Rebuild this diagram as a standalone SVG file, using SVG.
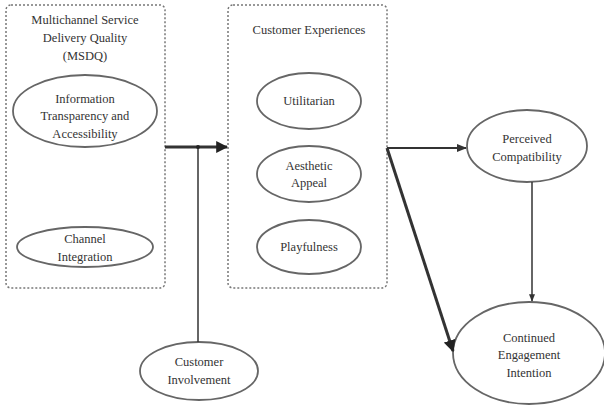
<svg xmlns="http://www.w3.org/2000/svg" width="604" height="407" viewBox="0 0 604 407">
<defs>
<style>
.box{fill:none;stroke:#777;stroke-width:1.5;stroke-dasharray:2,2}
.ell{fill:#fff;stroke:#666;stroke-width:1.8}
text{font-family:"Liberation Serif","Times New Roman",serif;font-size:12.5px;fill:#333;text-anchor:middle}
.ln{fill:none;stroke:#333}
</style>
<marker id="ah" viewBox="0 0 10 10" refX="9" refY="5" markerWidth="4" markerHeight="4" orient="auto" markerUnits="strokeWidth">
<path d="M0,0 L10,5 L0,10 z" fill="#222"/>
</marker>
<marker id="ahs" viewBox="0 0 10 10" refX="9" refY="5" markerWidth="5" markerHeight="5" orient="auto" markerUnits="strokeWidth">
<path d="M0,1 L10,5 L0,9 z" fill="#333"/>
</marker>
</defs>
<rect width="604" height="407" fill="#fff"/>
<g id="msdq">
<rect class="box" x="6" y="5" width="159" height="283" rx="5"/>
<text x="85" y="24">Multichannel Service</text>
<text x="85" y="42">Delivery Quality</text>
<text x="85" y="60">(MSDQ)</text>
</g>
<g id="info">
<ellipse class="ell" cx="85" cy="111" rx="72" ry="36"/>
<text x="85" y="103">Information</text>
<text x="85" y="120">Transparency and</text>
<text x="85" y="138">Accessibility</text>
</g>
<g id="channel">
<ellipse class="ell" cx="85" cy="247" rx="68" ry="20"/>
<text x="85" y="243">Channel</text>
<text x="85" y="261">Integration</text>
</g>
<g id="cx">
<rect class="box" x="228" y="5" width="159" height="283" rx="5"/>
<text x="309" y="34">Customer Experiences</text>
</g>
<g id="util">
<ellipse class="ell" cx="309" cy="101" rx="52" ry="28"/>
<text x="309" y="105">Utilitarian</text>
</g>
<g id="aesthetic">
<ellipse class="ell" cx="309" cy="174" rx="52" ry="28"/>
<text x="309" y="170">Aesthetic</text>
<text x="309" y="187">Appeal</text>
</g>
<g id="playful">
<ellipse class="ell" cx="309" cy="247" rx="52" ry="27"/>
<text x="309" y="251">Playfulness</text>
</g>
<g id="involvement">
<ellipse class="ell" cx="199" cy="371" rx="59" ry="29"/>
<text x="199" y="366">Customer</text>
<text x="199" y="384">Involvement</text>
</g>
<g id="compat">
<ellipse class="ell" cx="527" cy="146" rx="60" ry="36"/>
<text x="527" y="143">Perceived</text>
<text x="527" y="161">Compatibility</text>
</g>
<g id="engage">
<ellipse class="ell" cx="529" cy="353" rx="76" ry="51"/>
<text x="529" y="342">Continued</text>
<text x="529" y="359">Engagement</text>
<text x="529" y="377">Intention</text>
</g>
<g id="connectors">
<line class="ln" x1="165" y1="147" x2="227" y2="147" stroke-width="3" marker-end="url(#ah)"/>
<line class="ln" x1="198" y1="147" x2="198" y2="342" stroke-width="1.5" stroke="#555"/>
<circle cx="198" cy="147" r="2" fill="#222"/>
<line class="ln" x1="387" y1="148" x2="466" y2="148" stroke-width="2" marker-end="url(#ahs)"/>
<line class="ln" x1="387" y1="148" x2="453" y2="351" stroke-width="3" marker-end="url(#ah)"/>
<line class="ln" x1="532" y1="182" x2="532" y2="301" stroke-width="1.5" stroke="#555" marker-end="url(#ahs)"/>
</g>
</svg>
